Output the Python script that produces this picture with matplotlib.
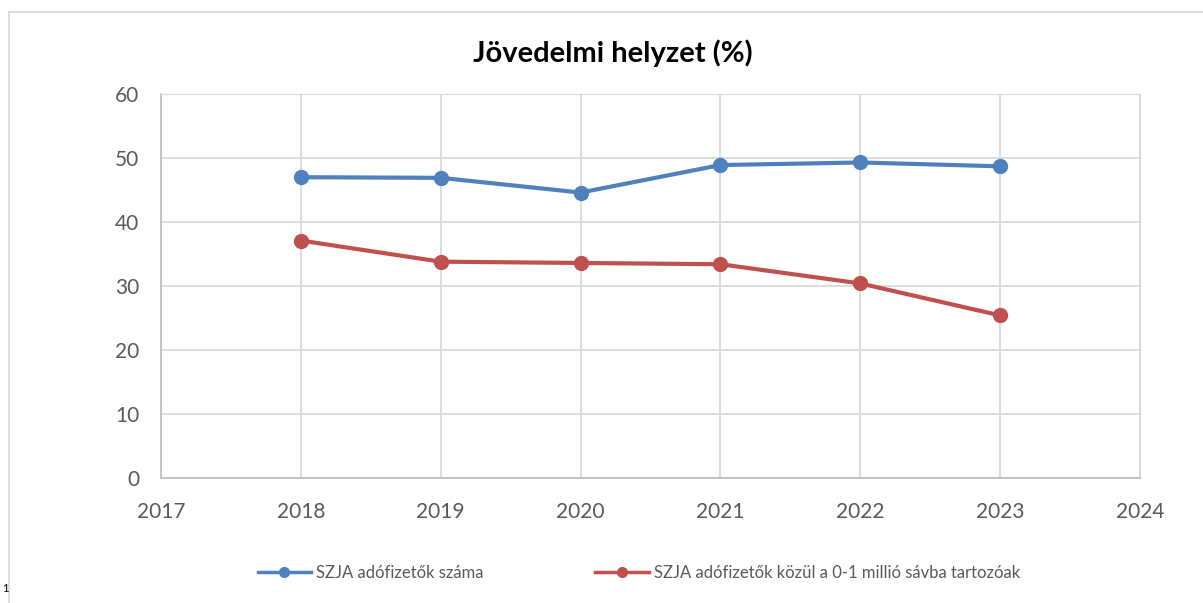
import matplotlib.pyplot as plt
from matplotlib.lines import Line2D

years = [2018, 2019, 2020, 2021, 2022, 2023]
szja_total = [47.0, 46.9, 44.6, 48.9, 49.3, 48.7]
szja_low_band = [37.1, 33.8, 33.6, 33.4, 30.4, 25.4]
labels = ["SZJA adófizetők száma", "SZJA adófizetők közül a 0-1 millió sávba tartozóak"]
colors = ['#4F81BD', '#C0504D']

plt.rcParams['font.family'] = ['Lato', 'DejaVu Sans']

fig = plt.figure(figsize=(12.03, 6.03), dpi=100)
ax = fig.add_axes([161 / 1203, 1 - 478 / 603, (1140 - 161) / 1203, (478 - 94) / 603])

ax.plot(years, szja_total, color=colors[0], lw=3, marker='o', ms=10)
ax.plot(years, szja_low_band, color=colors[1], lw=3, marker='o', ms=10)

ax.set_xlim(2017, 2024)
ax.set_ylim(0, 60)
ax.set_xticks(range(2017, 2025))
ax.set_yticks(range(0, 61, 10))
ax.grid(True, color='#D9D9D9', lw=1.3)
ax.set_axisbelow(True)
ax.tick_params(length=0, labelsize=15, labelcolor='#595959')
ax.tick_params(axis='x', pad=17)
ax.tick_params(axis='y', pad=15.5)
for side in ['top', 'right']:
    ax.spines[side].set_color('#D9D9D9')
for side in ['left', 'bottom']:
    ax.spines[side].set_color('#BFBFBF')
    ax.spines[side].set_linewidth(1.3)

fig.text(0.509, 1 - 53 / 603, "Jövedelmi helyzet (%)", ha='center', va='center',
         fontsize=21, fontweight='bold', color='black')

handles = [Line2D([], [], color=c, lw=2.5, marker='o', ms=7) for c in colors]
fig.legend(handles, labels, loc='center', bbox_to_anchor=(0.531, 1 - 573 / 603), ncol=2,
           frameon=False, fontsize=12, labelcolor='#595959', handlelength=3.2,
           handletextpad=0.3, columnspacing=6.7)

# outer chart border
fig.add_artist(Line2D([9 / 1203, 9 / 1203], [0, 1 - 12 / 603], color='#D9D9D9', lw=1.3))
fig.add_artist(Line2D([9 / 1203, 1], [1 - 12 / 603, 1 - 12 / 603], color='#D9D9D9', lw=1.3))
fig.text(0.002, 1 - 588 / 603, "1", fontsize=8, color='black', va='center')

fig.savefig('out.png', dpi=100)
